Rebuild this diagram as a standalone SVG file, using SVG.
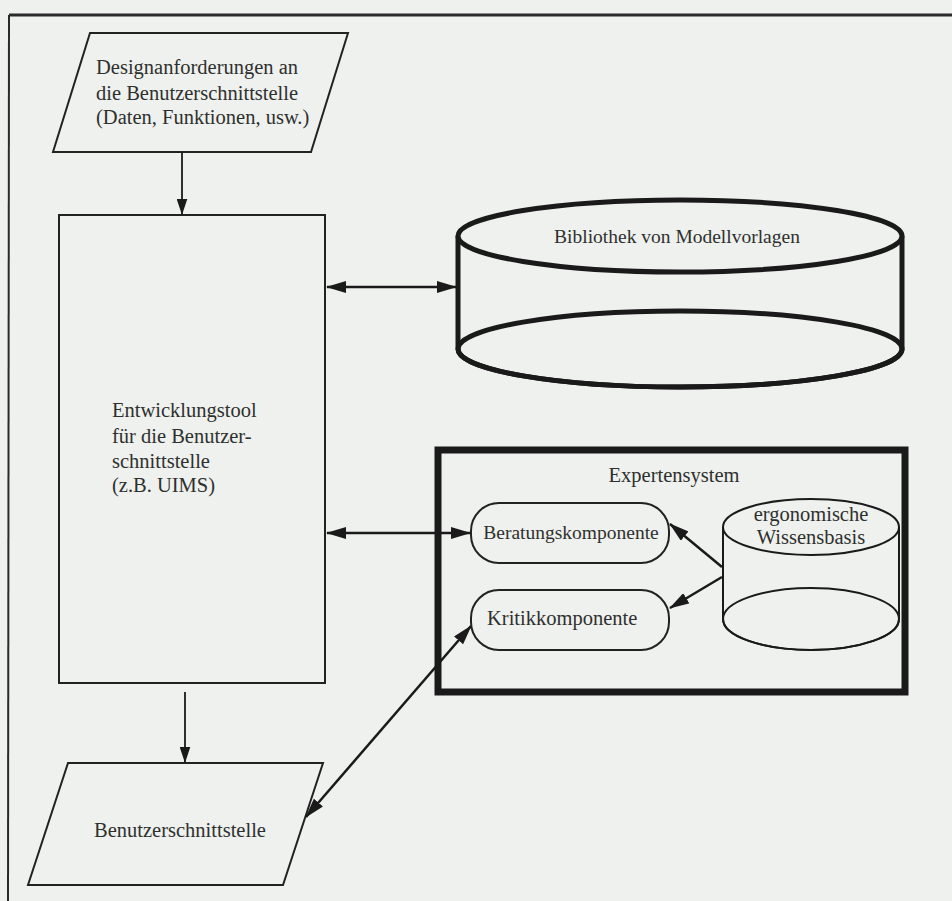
<svg xmlns="http://www.w3.org/2000/svg" width="952" height="901" viewBox="0 0 952 901">
<defs>
<style>
.bg{fill:#eff1ef}
.sh{fill:#eff1ef;stroke:#222;stroke-width:2}
.t{font-family:"Liberation Serif","Times New Roman",serif;font-size:20.5px;fill:#2e302e}
.s{font-size:19.5px}
.c{stroke:#1a1a1a;fill:none}
</style>
<marker id="ah" viewBox="0 0 20 12" refX="19" refY="6" markerWidth="20" markerHeight="12" markerUnits="userSpaceOnUse" orient="auto-start-reverse">
<path d="M0,0 L20,6 L0,12 z" fill="#1a1a1a"/>
</marker>
<marker id="ahs" viewBox="0 0 18 12" refX="17" refY="6" markerWidth="16" markerHeight="11" markerUnits="userSpaceOnUse" orient="auto-start-reverse">
<path d="M0,0 L18,6 L0,12 z" fill="#1a1a1a"/>
</marker>
</defs>
<rect class="bg" x="0" y="0" width="952" height="901"/>
<g id="frame">
<line x1="9" y1="15" x2="952" y2="15" stroke="#2a2a2a" stroke-width="3"/>
<line x1="9" y1="15" x2="8" y2="901" stroke="#2a2a2a" stroke-width="2"/>
</g>

<g id="anforderungen">
<polygon class="sh" points="90,33 348,33 311,152 53,152"/>
<text class="t" x="96" y="74">Designanforderungen an</text>
<text class="t" x="96" y="100">die Benutzerschnittstelle</text>
<text class="t" x="96" y="124">(Daten, Funktionen, usw.)</text>
</g>

<g id="entwicklungstool">
<rect class="sh" x="59" y="215" width="266" height="468"/>
<text class="t" x="112" y="417">Entwicklungstool</text>
<text class="t" x="112" y="443">für die Benutzer-</text>
<text class="t" x="112" y="468">schnittstelle</text>
<text class="t" x="112" y="492">(z.B. UIMS)</text>
</g>

<g id="bibliothek">
<path d="M458,236 L458,349 A222,38 0 0 0 902,349 L902,236" fill="#eff1ef" stroke="#1a1a1a" stroke-width="5"/>
<ellipse cx="680" cy="349" rx="222" ry="38" fill="none" stroke="#1a1a1a" stroke-width="5"/>
<ellipse cx="680" cy="236" rx="222" ry="36" fill="#eff1ef" stroke="#1a1a1a" stroke-width="5"/>
<text class="t s" x="677" y="243" text-anchor="middle">Bibliothek von Modellvorlagen</text>
</g>

<g id="expertensystem">
<rect x="438" y="450" width="467" height="242" fill="#eff1ef" stroke="#1a1a1a" stroke-width="7"/>
<text class="t" x="674" y="482" text-anchor="middle">Expertensystem</text>
</g>

<g id="beratung">
<rect class="sh" x="471" y="503" width="198" height="60" rx="28" ry="28"/>
<text class="t s" x="571" y="539" text-anchor="middle">Beratungskomponente</text>
</g>

<g id="kritik">
<rect class="sh" x="471" y="590" width="198" height="60" rx="28" ry="28"/>
<text class="t" x="487" y="625">Kritikkomponente</text>
</g>

<g id="wissensbasis">
<path d="M723,527 L723,619 A88,31 0 0 0 899,619 L899,527" fill="#eff1ef" stroke="#1a1a1a" stroke-width="2"/>
<ellipse cx="811" cy="619" rx="88" ry="31" fill="none" stroke="#1a1a1a" stroke-width="2"/>
<ellipse cx="811" cy="527" rx="88" ry="28" fill="#eff1ef" stroke="#1a1a1a" stroke-width="2"/>
<text class="t" x="811" y="521" text-anchor="middle">ergonomische</text>
<text class="t" x="811" y="544" text-anchor="middle">Wissensbasis</text>
</g>

<g id="benutzerschnittstelle">
<polygon class="sh" points="68,763 323,763 283,885 28,885"/>
<text class="t" x="180" y="837" text-anchor="middle">Benutzerschnittstelle</text>
</g>

<g id="connectors">
<line class="c" x1="182" y1="152" x2="182" y2="214" stroke-width="1.8" marker-end="url(#ahs)"/>
<line class="c" x1="327" y1="287" x2="456" y2="287" stroke-width="2.5" marker-start="url(#ah)" marker-end="url(#ah)"/>
<line class="c" x1="327" y1="533" x2="470" y2="533" stroke-width="2.5" marker-start="url(#ah)" marker-end="url(#ah)"/>
<line class="c" x1="722" y1="567" x2="670" y2="524" stroke-width="2.5" marker-end="url(#ah)"/>
<line class="c" x1="722" y1="577" x2="670" y2="608" stroke-width="2.5" marker-end="url(#ah)"/>
<line class="c" x1="306" y1="817" x2="471" y2="626" stroke-width="2.5" marker-start="url(#ah)" marker-end="url(#ah)"/>
<line class="c" x1="185" y1="692" x2="185" y2="762" stroke-width="1.8" marker-end="url(#ahs)"/>
</g>
</svg>
